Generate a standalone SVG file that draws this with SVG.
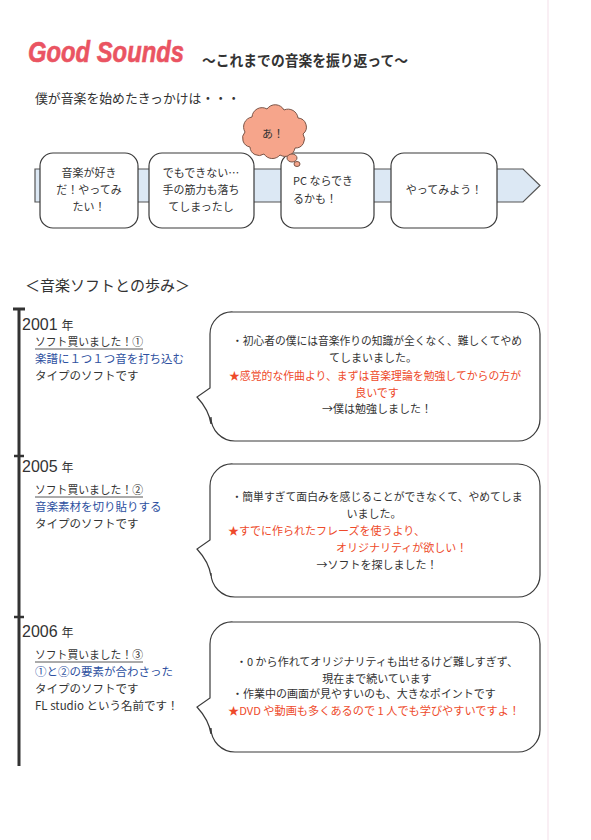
<svg xmlns="http://www.w3.org/2000/svg" width="591" height="840" viewBox="0 0 591 840">
<style>
.t{font-family:"Noto Sans CJK JP","Noto Sans",sans-serif;fill:#333;}
.s11{font-size:11px;}
.s115{font-size:11.5px;}
.yr{font-family:"Liberation Sans",Arial,sans-serif;font-size:16px;fill:#333;}
.yk{font-family:"Noto Sans CJK JP",sans-serif;font-size:12px;}
.box{fill:#fff;stroke:#3a3a3a;stroke-width:1.2;}
.bub{fill:#fff;stroke:#3a3a3a;stroke-width:1.2;}
.red{fill:#ee4a2a;}
.blue{fill:#2d50a0;}
.tl{stroke:#333;stroke-width:3;fill:none;}
.ul{stroke:#444;stroke-width:0.9;}
.cl{fill:#f6a58b;stroke:#7a5548;stroke-width:1;}
</style>
<rect x="0" y="0" width="591" height="840" fill="#fff"/>
<line x1="548" y1="0" x2="548" y2="840" stroke="#f7eaf1" stroke-width="1.5"/>

<g id="title">
<text x="28" y="62" font-family="Liberation Sans, Arial, sans-serif" font-size="30" font-weight="bold" font-style="italic" fill="#ea5462" stroke="#ea5462" stroke-width="0.6" textLength="156" lengthAdjust="spacingAndGlyphs">Good Sounds</text>
<text class="t" x="202" y="66" font-size="15" font-weight="bold" fill="#2b2b2b" textLength="206" lengthAdjust="spacingAndGlyphs">～これまでの音楽を振り返って～</text>
</g>
<text class="t" x="35" y="103" font-size="13" textLength="205" lengthAdjust="spacingAndGlyphs">僕が音楽を始めたきっかけは・・・</text>

<g id="band">
<path d="M35,169 H523 L540,185.5 L523,202 H35 Z" fill="#dce8f4" stroke="#555" stroke-width="1.2"/>
</g>

<g id="box1">
<rect class="box" x="40" y="153" width="98" height="75" rx="13"/>
<text class="t s11" text-anchor="middle" x="89" y="177">音楽が好き</text>
<text class="t s11" text-anchor="middle" x="89" y="194">だ！やってみ</text>
<text class="t s11" text-anchor="middle" x="89" y="211">たい！</text>
</g>
<g id="box2">
<rect class="box" x="149" y="153" width="105" height="75" rx="13"/>
<text class="t s11" text-anchor="middle" x="201" y="177">でもできない…</text>
<text class="t s11" text-anchor="middle" x="201" y="194">手の筋力も落ち</text>
<text class="t s11" text-anchor="middle" x="201" y="211">てしまったし</text>
</g>
<g id="box3">
<rect class="box" x="281" y="153" width="93" height="75" rx="13"/>
<text class="t s11" x="293" y="185">PC ならでき</text>
<text class="t s11" x="293" y="203">るかも！</text>
</g>
<g id="box4">
<rect class="box" x="391" y="153" width="106" height="75" rx="13"/>
<text class="t s11" text-anchor="middle" x="444" y="194">やってみよう！</text>
</g>
<g id="cloud">
<path class="cl" d="M250,147 A9,9 0 0 1 245,132 A10,10 0 0 1 252,117 A10,10 0 0 1 267,109 A10,10 0 0 1 284,110 A10,10 0 0 1 298,118 A9,9 0 0 1 303,134 A9,9 0 0 1 295,148 A10,10 0 0 1 280,155 A10,10 0 0 1 264,154 A9,9 0 0 1 250,147 Z"/>
<ellipse class="cl" cx="292" cy="158" rx="5" ry="4"/>
<ellipse class="cl" cx="297" cy="164" rx="3" ry="2.5"/>
<text class="t s11" text-anchor="middle" x="273" y="138">あ！</text>
</g>

<text class="t" x="25" y="291" font-size="15" textLength="165" lengthAdjust="spacingAndGlyphs">＜音楽ソフトとの歩み＞</text>

<g id="timeline">
<line class="tl" x1="19" y1="309" x2="19" y2="766"/>
<line class="tl" x1="13" y1="309" x2="25" y2="309"/>
<line x1="14" y1="456" x2="24" y2="456" stroke="#333" stroke-width="2.5"/>
<line x1="14" y1="617" x2="24" y2="617" stroke="#333" stroke-width="2.5"/>
</g>

<g id="y2001">
<text class="yr" x="22" y="330">2001<tspan class="yk" dx="4">年</tspan></text>
<text class="t s115" x="35" y="346" textLength="108" lengthAdjust="spacingAndGlyphs">ソフト買いました！①</text>
<line class="ul" x1="35" y1="349" x2="143" y2="349"/>
<text class="t s115 blue" x="35" y="363" textLength="149" lengthAdjust="spacingAndGlyphs">楽譜に１つ１つ音を打ち込む</text>
<text class="t s115" x="35" y="380">タイプのソフトです</text>
</g>
<g id="bubble1">
<path class="bub" d="M233,312 H518 A22,22 0 0 1 540,334 V419 A22,22 0 0 1 518,441 H235 A24,24 0 0 1 211,417 V424 Q209,410 197,397 L210,388 V334 A22,22 0 0 1 233,312 Z"/>
<text class="t s11" text-anchor="middle" x="377" y="345" textLength="290" lengthAdjust="spacingAndGlyphs">・初心者の僕には音楽作りの知識が全くなく、難しくてやめ</text>
<text class="t s11" text-anchor="middle" x="373" y="362">てしまいました。</text>
<text class="t s11 red" text-anchor="middle" x="375" y="380" textLength="292" lengthAdjust="spacingAndGlyphs">★感覚的な作曲より、まずは音楽理論を勉強してからの方が</text>
<text class="t s11 red" text-anchor="middle" x="377" y="397">良いです</text>
<text class="t s11" text-anchor="middle" x="377" y="413">→僕は勉強しました！</text>
</g>

<g id="y2005">
<text class="yr" x="22" y="472">2005<tspan class="yk" dx="4">年</tspan></text>
<text class="t s115" x="35" y="494" textLength="108" lengthAdjust="spacingAndGlyphs">ソフト買いました！②</text>
<line class="ul" x1="35" y1="497" x2="143" y2="497"/>
<text class="t s115 blue" x="35" y="511">音楽素材を切り貼りする</text>
<text class="t s115" x="35" y="528">タイプのソフトです</text>
</g>
<g id="bubble2">
<path class="bub" d="M233,464 H518 A22,22 0 0 1 540,486 V575 A22,22 0 0 1 518,597 H235 A24,24 0 0 1 211,573 V576 Q209,562 197,549 L210,540 V486 A22,22 0 0 1 233,464 Z"/>
<text class="t s11" text-anchor="middle" x="377" y="501" textLength="291" lengthAdjust="spacingAndGlyphs">・簡単すぎて面白みを感じることができなくて、やめてしま</text>
<text class="t s11" text-anchor="middle" x="374" y="518">いました。</text>
<text class="t s11 red" x="228" y="535">★すでに作られたフレーズを使うより、</text>
<text class="t s11 red" x="336" y="552">オリジナリティが欲しい！</text>
<text class="t s11" text-anchor="middle" x="377" y="569">→ソフトを探しました！</text>
</g>

<g id="y2006">
<text class="yr" x="22" y="637">2006<tspan class="yk" dx="4">年</tspan></text>
<text class="t s115" x="35" y="659" textLength="108" lengthAdjust="spacingAndGlyphs">ソフト買いました！③</text>
<line class="ul" x1="35" y1="662" x2="143" y2="662"/>
<text class="t s115 blue" x="35" y="676">①と②の要素が合わさった</text>
<text class="t s115" x="35" y="693">タイプのソフトです</text>
<text class="t s115" x="35" y="710">FL studio という名前です！</text>
</g>
<g id="bubble3">
<path class="bub" d="M233,622 H518 A22,22 0 0 1 540,644 V730 A22,22 0 0 1 518,752 H235 A24,24 0 0 1 211,728 V734 Q209,720 197,707 L210,698 V644 A22,22 0 0 1 233,622 Z"/>
<text class="t s11" text-anchor="middle" x="377" y="666" textLength="282" lengthAdjust="spacingAndGlyphs">・0 から作れてオリジナリティも出せるけど難しすぎず、</text>
<text class="t s11" text-anchor="middle" x="377" y="683">現在まで続いています</text>
<text class="t s11" x="232" y="698">・作業中の画面が見やすいのも、大きなポイントです</text>
<text class="t s11 red" x="228" y="715" textLength="292" lengthAdjust="spacingAndGlyphs">★DVD や動画も多くあるので 1 人でも学びやすいですよ！</text>
</g>
</svg>
